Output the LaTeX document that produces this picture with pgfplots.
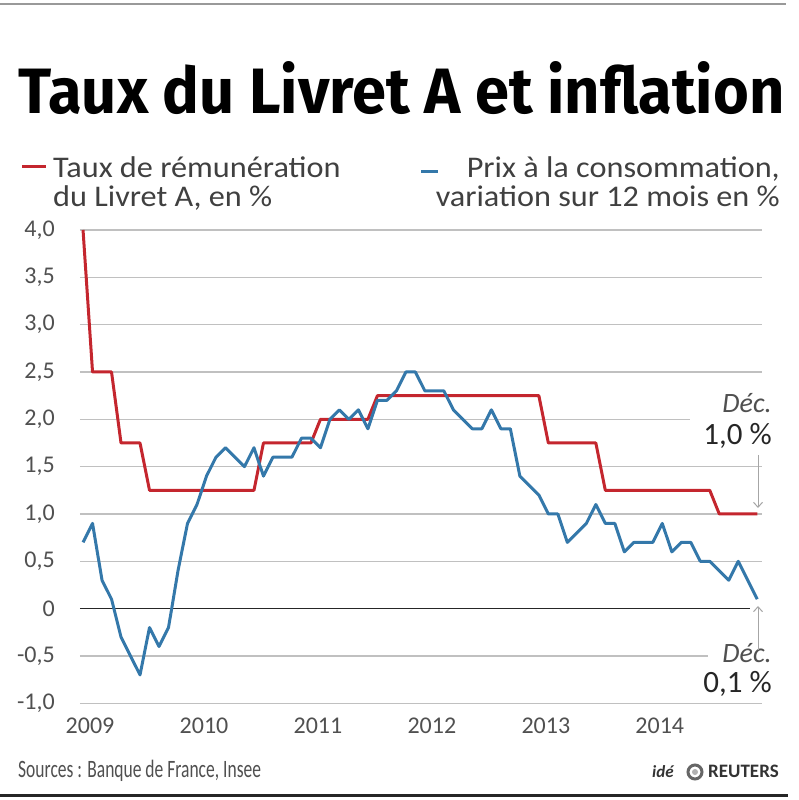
\documentclass[border=0pt]{standalone}
\usepackage{pgfplots}
\pgfplotsset{compat=1.18}
\usetikzlibrary{arrows.meta}
\usepackage{fontspec}
\setmainfont{Carlito}
\newfontfamily\titlefont{Fira Sans}
\definecolor{lredc}{RGB}{196,38,46}
\definecolor{lbluec}{RGB}{52,120,170}
\definecolor{gridc}{RGB}{192,192,192}
\definecolor{txtc}{RGB}{64,64,64}
\definecolor{tickc}{RGB}{80,80,80}
\pgfplotstableread{
m v
0 0.7
1 0.9
2 0.3
3 0.1
4 -0.3
5 -0.5
6 -0.7
7 -0.2
8 -0.4
9 -0.2
10 0.4
11 0.9
12 1.1
13 1.4
14 1.6
15 1.7
16 1.6
17 1.5
18 1.7
19 1.4
20 1.6
21 1.6
22 1.6
23 1.8
24 1.8
25 1.7
26 2.0
27 2.1
28 2.0
29 2.1
30 1.9
31 2.2
32 2.2
33 2.3
34 2.5
35 2.5
36 2.3
37 2.3
38 2.3
39 2.1
40 2.0
41 1.9
42 1.9
43 2.1
44 1.9
45 1.9
46 1.4
47 1.3
48 1.2
49 1.0
50 1.0
51 0.7
52 0.8
53 0.9
54 1.1
55 0.9
56 0.9
57 0.6
58 0.7
59 0.7
60 0.7
61 0.9
62 0.6
63 0.7
64 0.7
65 0.5
66 0.5
67 0.4
68 0.3
69 0.5
70 0.3
71 0.1
}\cpitable
\pgfplotstableread{
m v
0 4.0
1 2.5
2 2.5
3 2.5
4 1.75
5 1.75
6 1.75
7 1.25
8 1.25
9 1.25
10 1.25
11 1.25
12 1.25
13 1.25
14 1.25
15 1.25
16 1.25
17 1.25
18 1.25
19 1.75
20 1.75
21 1.75
22 1.75
23 1.75
24 1.75
25 2.0
26 2.0
27 2.0
28 2.0
29 2.0
30 2.0
31 2.25
32 2.25
33 2.25
34 2.25
35 2.25
36 2.25
37 2.25
38 2.25
39 2.25
40 2.25
41 2.25
42 2.25
43 2.25
44 2.25
45 2.25
46 2.25
47 2.25
48 2.25
49 1.75
50 1.75
51 1.75
52 1.75
53 1.75
54 1.75
55 1.25
56 1.25
57 1.25
58 1.25
59 1.25
60 1.25
61 1.25
62 1.25
63 1.25
64 1.25
65 1.25
66 1.25
67 1.0
68 1.0
69 1.0
70 1.0
71 1.0
}\livrettable
\newcommand{\legtxt}[1]{\scalebox{1.075}[1]{\fontsize{30pt}{30pt}\selectfont #1}}
\begin{document}
\begin{tikzpicture}[x=1pt,y=1pt]
\useasboundingbox (0,0) rectangle (798,800);
% top rule
\draw[line width=2pt, color=gray!80] (0,796) -- (786,796);
% title
\node[anchor=base west, inner sep=0pt] at (18,686)
  {\resizebox{766pt}{52pt}{\titlefont\bfseries Taux du Livret A et inflation}};
% legend
\draw[line width=3pt, lredc] (22,633) -- (46,633);
\node[anchor=base west, inner sep=0pt, text=txtc] at (53,622) {\legtxt{Taux de rémunération}};
\node[anchor=base west, inner sep=0pt, text=txtc] at (53,593) {\legtxt{du Livret A, en \%}};
\draw[line width=3pt, lbluec] (421,628) -- (438,628);
\node[anchor=base east, inner sep=0pt, text=txtc] at (780,622) {\legtxt{Prix à la consommation,}};
\node[anchor=base east, inner sep=0pt, text=txtc] at (780,593) {\legtxt{variation sur 12 mois en \%}};
\begin{axis}[
  at={(80pt,96.7pt)}, anchor=south west,
  scale only axis, width=682pt, height=473.3pt,
  xmin=-0.32, xmax=71.5, ymin=-1, ymax=4,
  clip=false,
  axis line style={draw=none},
  major tick length=0pt,
  xtick={0,12,24,36,48,60},
  xticklabels={2009,2010,2011,2012,2013,2014},
  ytick={-1,-0.5,0,0.5,1,1.5,2,2.5,3,3.5,4},
  yticklabels={{-1,0},{-0,5},0,{0,5},{1,0},{1,5},{2,0},{2,5},{3,0},{3,5},{4,0}},
  ticklabel style={font=\fontsize{24pt}{24pt}\selectfont, text=tickc},
  yticklabel style={anchor=east, inner sep=0pt, xshift=-25pt},
  xticklabel style={anchor=base, inner sep=0pt, yshift=-30pt, xshift=7pt},
]
\draw[gridc, line width=1.5pt] (axis cs:-0.32,-1) -- (axis cs:71.5,-1);
\draw[gridc, line width=1.5pt] (axis cs:-0.32,-0.5) -- (axis cs:65.8,-0.5);
\draw[gridc, line width=1.5pt] (axis cs:-0.32,0.5) -- (axis cs:71.5,0.5);
\draw[gridc, line width=1.5pt] (axis cs:-0.32,1) -- (axis cs:71.5,1);
\draw[gridc, line width=1.5pt] (axis cs:-0.32,1.5) -- (axis cs:71.5,1.5);
\draw[gridc, line width=1.5pt] (axis cs:-0.32,2) -- (axis cs:63.9,2);
\draw[gridc, line width=1.5pt] (axis cs:-0.32,2.5) -- (axis cs:71.5,2.5);
\draw[gridc, line width=1.5pt] (axis cs:-0.32,3) -- (axis cs:71.5,3);
\draw[gridc, line width=1.5pt] (axis cs:-0.32,3.5) -- (axis cs:71.5,3.5);
\draw[gridc, line width=1.5pt] (axis cs:-0.32,4) -- (axis cs:71.5,4);
\draw[black!85, line width=1.5pt] (axis cs:-0.32,0) -- (axis cs:70.2,0);
\addplot[lredc, line width=3pt, line join=round, mark=none] table[x=m, y=v] {\livrettable};
\addplot[lbluec, line width=3pt, line join=round, mark=none] table[x=m, y=v] {\cpitable};
\end{axis}
% annotations
\node[anchor=base east, inner sep=0pt, text=tickc, font=\fontsize{28pt}{28pt}\selectfont\itshape] at (772,387) {Déc.};
\node[anchor=base east, inner sep=0pt, text=black!85, font=\fontsize{31pt}{31pt}\selectfont] at (772,355) {1,0 \%};
\draw[gray!70, line width=1pt, -{Straight Barb[length=5pt,width=9pt]}] (758,345) -- (758,292);
\node[anchor=base east, inner sep=0pt, text=tickc, font=\fontsize{28pt}{28pt}\selectfont\itshape] at (772,137) {Déc.};
\node[anchor=base east, inner sep=0pt, text=black!85, font=\fontsize{31pt}{31pt}\selectfont] at (772,107) {0,1 \%};
\draw[gray!70, line width=1pt, -{Straight Barb[length=5pt,width=9pt]}] (758,150) -- (758,194);
% footer
\node[anchor=base west, inner sep=0pt, text=tickc] at (18,22) {\scalebox{0.7}[1]{\fontsize{25pt}{25pt}\selectfont Sources : Banque de France, Insee}};
\node[anchor=base west, inner sep=0pt, text=black!80, font=\fontsize{17pt}{17pt}\selectfont\bfseries\itshape] at (652,22) {idé};
\draw[black!60, line width=3pt] (695,28) circle (7);
\fill[black!30] (695,28) circle (3);
\node[anchor=base west, inner sep=0pt, text=black!80, font=\fontsize{19pt}{19pt}\selectfont\bfseries] at (708,22) {REUTERS};
\draw[line width=3pt, black!85] (0,4) -- (788,4);
\end{tikzpicture}
\end{document}
